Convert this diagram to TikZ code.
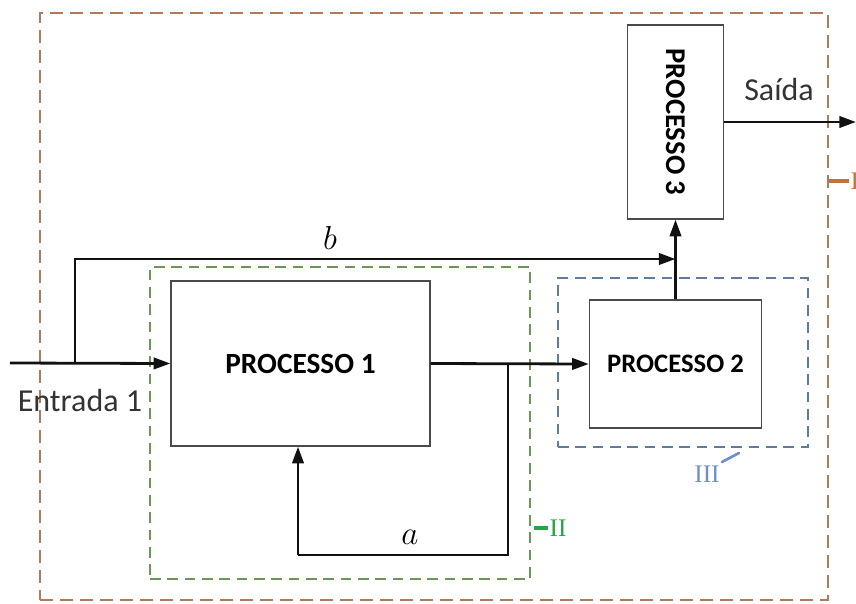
\documentclass[tikz,border=0pt]{standalone}
\usepackage{fontspec}
\setmainfont{Carlito}
\newfontfamily\labserif{Liberation Serif}
\usetikzlibrary{arrows.meta,positioning,calc}
\definecolor{Ink}{HTML}{111111}
\definecolor{Frame}{HTML}{4A4A4A}
\definecolor{Rust}{HTML}{B07A5C}
\definecolor{RustLab}{HTML}{C0733E}
\definecolor{Moss}{HTML}{6C9658}
\definecolor{MossLab}{HTML}{22A64A}
\definecolor{Slate}{HTML}{5E7D9C}
\definecolor{SlateLab}{HTML}{6E8FCC}
\definecolor{TxtGray}{HTML}{333333}
\tikzset{
  >={Triangle[length=12.5pt,width=8.5pt]},
  proc/.style={rectangle,draw=Frame,line width=1pt,fill=white,inner sep=0pt,font=\fontsize{22}{24}\selectfont\bfseries},
  zone/.style={rectangle,line width=1.4pt,inner sep=0pt,dash pattern=on 8pt off 5pt},
  flow/.style={->,line width=2.1pt,draw=Ink},
  line/.style={line width=2.1pt,draw=Ink},
  lab/.style={font=\fontsize{24}{26}\selectfont,text=TxtGray,inner sep=1pt},
  mlab/.style={font=\fontsize{24}{26}\selectfont,inner sep=1pt},
  zlab/.style={font=\fontsize{19}{21}\selectfont\labserif,inner sep=1pt,anchor=west},
  tick/.style={line width=2.4pt}
}
\begin{document}
\begin{tikzpicture}[x=0.75pt,y=-0.75pt]
  \useasboundingbox (0,0) rectangle (856,603);
  % zones
  \node[zone,draw=Rust,minimum width=591pt,minimum height=440.25pt,dash pattern=on 9.5pt off 5.5pt] (zI) at (434,306.5) {};
  \node[zone,draw=Moss,minimum width=285pt,minimum height=234pt] (zII) at (340,423) {};
  \node[zone,draw=Slate,minimum width=187.5pt,minimum height=126.75pt] (zIII) at (683,362.5) {};

  % processes
  \node[proc,minimum width=194.25pt,minimum height=123.75pt] (p1) at (300.5,363.5) {PROCESSO 1};
  \node[proc,minimum width=129pt,minimum height=96pt,font=\fontsize{20}{22}\selectfont\bfseries] (p2) at (675.5,364) {PROCESSO 2};
  \node[proc,minimum width=72pt,minimum height=145.5pt] (p3) at (675.5,122) {};
  \node[font=\fontsize{21.5}{23}\selectfont\bfseries,rotate=-90] (p3t) at (p3.center) {PROCESSO 3};

  \coordinate (in) at (10,363);
  \coordinate (br) at (75,363);
  \coordinate (j) at (675.5,259);
  \coordinate (fb) at (508,363);
  \coordinate (fbl) at (298,555);
  \coordinate (out) at (856,122);

  \draw[flow] (in)--(p1.west);
  \draw[flow] (br)|-(j);
  \draw[flow] (p1.east)--(p2.west);
  \draw[flow] (p2.north)--(p3.south);
  \draw[flow] (p3.east)--(out);
  \draw[line] (fb)|-(fbl);
  \draw[flow] (fbl)--(fbl|-p1.south);

  \node[lab] (ent) at (80,401) {Entrada 1};
  \node[lab] (sai) at (779,90) {Saída};
  \node[mlab] (lb) at (330,238) {$b$};
  \node[mlab] (la) at (410,537) {$a$};

  % zone labels
  \draw[tick,draw=RustLab] (zI.east|-0,181)--++(20,0) coordinate (tI);
  \node[zlab,text=RustLab] (lI) at (tI) {I};
  \draw[tick,draw=MossLab] (534,528)--++(14,0) coordinate (tII);
  \node[zlab,text=MossLab] (lII) at (tII) {II};
  \draw[line width=2pt,draw=SlateLab,line cap=round] (722,462)--(739,453);
  \node[zlab,text=SlateLab,anchor=center] (lIII) at (707,474) {III};
\end{tikzpicture}
\end{document}
